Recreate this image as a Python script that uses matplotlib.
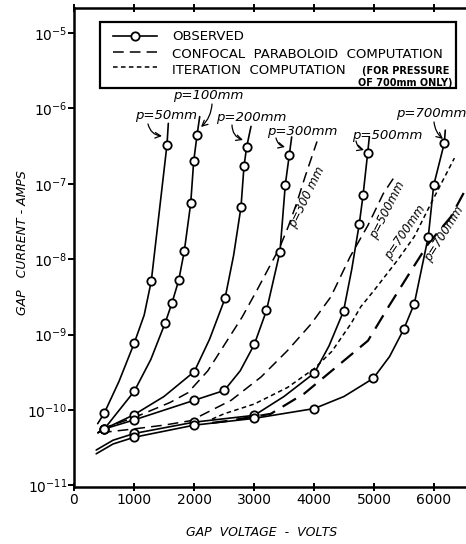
import numpy as np
import matplotlib
matplotlib.use('agg')
import matplotlib.pyplot as plt
import matplotlib.transforms as mtransforms
from matplotlib.ticker import FixedLocator, NullLocator
from matplotlib.patches import Rectangle
from matplotlib.lines import Line2D

W, H = 466, 544

# observed curves: gap voltage (V) and log10 of gap current (A)
# *_mk are the indices of the plotted (circled) observations
p50_v   = [395, 505, 750, 1005, 1170, 1288, 1550, 1572]
p50_log = [-10.18, -10.04, -9.62, -9.11, -8.74, -8.29, -6.48, -6.20]
p50_mk  = [1, 3, 5, 6]

p100_v   = [400, 505, 1005, 1280, 1522, 1633, 1745, 1838, 1945, 1995, 2050, 2095]
p100_log = [-10.30, -10.25, -9.75, -9.33, -8.84, -8.58, -8.28, -7.895, -7.26, -6.70, -6.36, -6.11]
p100_mk  = [1, 2, 4, 5, 6, 7, 8, 9, 10]

p200_v   = [400, 505, 1005, 1500, 2005, 2260, 2517, 2660, 2783, 2833, 2878, 2950]
p200_log = [-10.30, -10.25, -10.06, -9.82, -9.49, -9.06, -8.52, -7.95, -7.31, -6.77, -6.51, -6.24]
p200_mk  = [1, 2, 4, 6, 8, 9, 10]

p300_v   = [400, 505, 1005, 2005, 2505, 2770, 3005, 3208, 3433, 3522, 3588, 3628]
p300_log = [-10.30, -10.25, -10.13, -9.87, -9.74, -9.48, -9.13, -8.68, -7.90, -7.01, -6.62, -6.38]
p300_mk  = [1, 2, 3, 4, 6, 7, 8, 9, 10]

p500_v   = [370, 650, 1005, 2005, 3005, 3500, 4005, 4250, 4492, 4630, 4755, 4817, 4895, 4922]
p500_log = [-10.53, -10.40, -10.31, -10.16, -10.07, -9.82, -9.51, -9.15, -8.69, -8.13, -7.53, -7.155, -6.59, -6.38]
p500_mk  = [2, 3, 4, 6, 8, 10, 11, 12]

p700_v   = [370, 650, 1005, 2005, 3005, 4005, 4500, 4988, 5260, 5495, 5672, 5905, 5995, 6172, 6188]
p700_log = [-10.58, -10.45, -10.36, -10.20, -10.11, -9.98, -9.82, -9.58, -9.29, -8.93, -8.59, -7.70, -7.02, -6.46, -6.29]
p700_mk  = [2, 3, 4, 5, 7, 9, 10, 11, 12, 13]

# confocal paraboloid computation (long dashes)
conf300_v   = [450, 1000, 1600, 1900, 2230, 2800, 3050, 3270, 3420, 3570, 3710, 3850, 4050]
conf300_log = [-10.25, -10.10, -9.90, -9.77, -9.48, -8.77, -8.41, -8.08, -7.86, -7.57, -7.26, -6.91, -6.44]
conf500_v   = [450, 1000, 1500, 1950, 2620, 3120, 3560, 3950, 4280, 4600, 4900, 5155, 5330]
conf500_log = [-10.30, -10.25, -10.20, -10.14, -9.87, -9.56, -9.21, -8.86, -8.50, -7.97, -7.55, -7.13, -6.92]
conf700_v   = [2300, 2600, 3280, 3840, 4340, 4900, 5250, 5620, 5900, 6280, 6550, 6800]
conf700_log = [-10.17, -10.14, -10.05, -9.78, -9.45, -9.08, -8.62, -8.15, -7.80, -7.44, -7.04, -6.70]

# iteration computation, 700 mm only (short dashes)
iter700_v   = [2300, 2500, 3005, 3560, 4005, 4300, 4620, 4780, 5005, 5395, 5672, 5950, 6340]
iter700_log = [-10.12, -10.05, -9.92, -9.70, -9.45, -9.22, -8.85, -8.63, -8.41, -8.01, -7.70, -7.26, -6.66]

x_ticks = [0, 1000, 2000, 3000, 4000, 5000, 6000]
y_ticks = [1e-11, 1e-10, 1e-9, 1e-8, 1e-7, 1e-6, 1e-5]

fig = plt.figure(figsize=(W / 100, H / 100), dpi=100)
ax = fig.add_axes([74 / W, 57 / H, 420 / W, 479 / H])
ax.set_yscale('log')
ax.set_xlim(0, 7000)
ax.set_ylim(10 ** -11.02, 10 ** -4.67)

observed = [(p50_v, p50_log, p50_mk), (p100_v, p100_log, p100_mk),
            (p200_v, p200_log, p200_mk), (p300_v, p300_log, p300_mk),
            (p500_v, p500_log, p500_mk), (p700_v, p700_log, p700_mk)]
for v, lg, mk in observed:
    v = np.array(v)
    i = 10.0 ** np.array(lg)
    ax.plot(v, i, color='black', lw=1.2, solid_capstyle='round')
    ax.plot(v[mk], i[mk], ls='none', marker='o', ms=6, mfc='white',
            mec='black', mew=1.3, zorder=4)

for v, lg, w in ((conf300_v, conf300_log, 1.1), (conf500_v, conf500_log, 1.1),
                 (conf700_v, conf700_log, 1.6)):
    ax.plot(v, 10.0 ** np.array(lg), color='black', lw=w, dashes=(7, 4))
ax.plot(iter700_v, 10.0 ** np.array(iter700_log), color='black', lw=1.1, dashes=(3, 2.2))

ax.xaxis.set_major_locator(FixedLocator(x_ticks))
ax.yaxis.set_major_locator(FixedLocator(y_ticks))
ax.yaxis.set_minor_locator(NullLocator())
ax.tick_params(axis='x', direction='inout', length=6, width=1.4, top=True,
               labelsize=10, pad=1)
ax.tick_params(axis='y', direction='out', length=4, width=1.4, labelsize=10, pad=1)
for s in ('left', 'bottom', 'top'):
    ax.spines[s].set_linewidth(1.8)
ax.spines['right'].set_visible(False)

# image-pixel transform for annotations (y measured from the top)
tr = mtransforms.Affine2D().scale(1, -1).translate(0, H)

fig.text(262, 533, 'GAP  VOLTAGE  -  VOLTS', transform=tr, ha='center', va='center',
         fontsize=9, style='italic')
fig.text(23, 243, 'GAP   CURRENT - AMPS', transform=tr, ha='center', va='center',
         rotation=90, fontsize=9, style='italic')

# legend box
fig.patches.append(Rectangle((100, 22), 356, 66, transform=tr, fill=False,
                             lw=1.6, ec='black'))
fig.lines.append(Line2D([113, 157], [36, 36], transform=tr, color='black', lw=1.2))
fig.lines.append(Line2D([135], [36], transform=tr, marker='o', ms=6, mfc='white',
                        mec='black', mew=1.3))
fig.lines.append(Line2D([113, 157], [52, 52], transform=tr, color='black', lw=1.1,
                        dashes=(7, 4)))
fig.lines.append(Line2D([113, 157], [67, 67], transform=tr, color='black', lw=1.1,
                        dashes=(3, 2.2)))
fig.text(172, 36, 'OBSERVED', transform=tr, va='center', fontsize=9.5)
fig.text(172, 54, 'CONFOCAL  PARABOLOID  COMPUTATION', transform=tr, va='center',
         fontsize=9.5)
fig.text(172, 70, 'ITERATION  COMPUTATION', transform=tr, va='center', fontsize=9.5)
fig.text(362, 71, '(FOR PRESSURE', transform=tr, va='center', fontsize=7, weight='bold')
fig.text(452, 83, 'OF 700mm ONLY)', transform=tr, va='center', ha='right',
         fontsize=7, weight='bold')

# pressure labels with arrows
labels = [('p=50mm', (166, 115), (148, 124), (162, 136), 0.35),
          ('p=100mm', (208, 96), (212, 104), (201, 127), -0.2),
          ('p=200mm', (251, 118), (232, 125), (243, 140), 0.35),
          ('p=300mm', (302, 131), (276, 138), (285, 147), 0.3),
          ('p=500mm', (387, 135), (356, 141), (364, 150), 0.3),
          ('p=700mm', (431, 113), (434, 122), (443, 139), 0.2)]
for txt, c, tail, tip, rad in labels:
    fig.text(c[0], c[1], txt, transform=tr, ha='center', va='center', fontsize=9.5,
             style='italic')
    ax.annotate('', xy=tip, xycoords=tr, xytext=tail, textcoords=tr,
                arrowprops=dict(arrowstyle='->', lw=0.9, color='black',
                                shrinkA=0, shrinkB=0,
                                connectionstyle='arc3,rad=%s' % rad))

for txt, c, ang in (('p=300 mm', (307, 197), 64), ('p=500mm', (388, 210), 63),
                    ('p=700mm', (405, 232), 56), ('p=700mm', (444, 234), 58)):
    fig.text(c[0], c[1], txt, transform=tr, ha='center', va='center', fontsize=8.5,
             style='italic', rotation=ang, rotation_mode='anchor')

fig.savefig('out.png', dpi=100)
